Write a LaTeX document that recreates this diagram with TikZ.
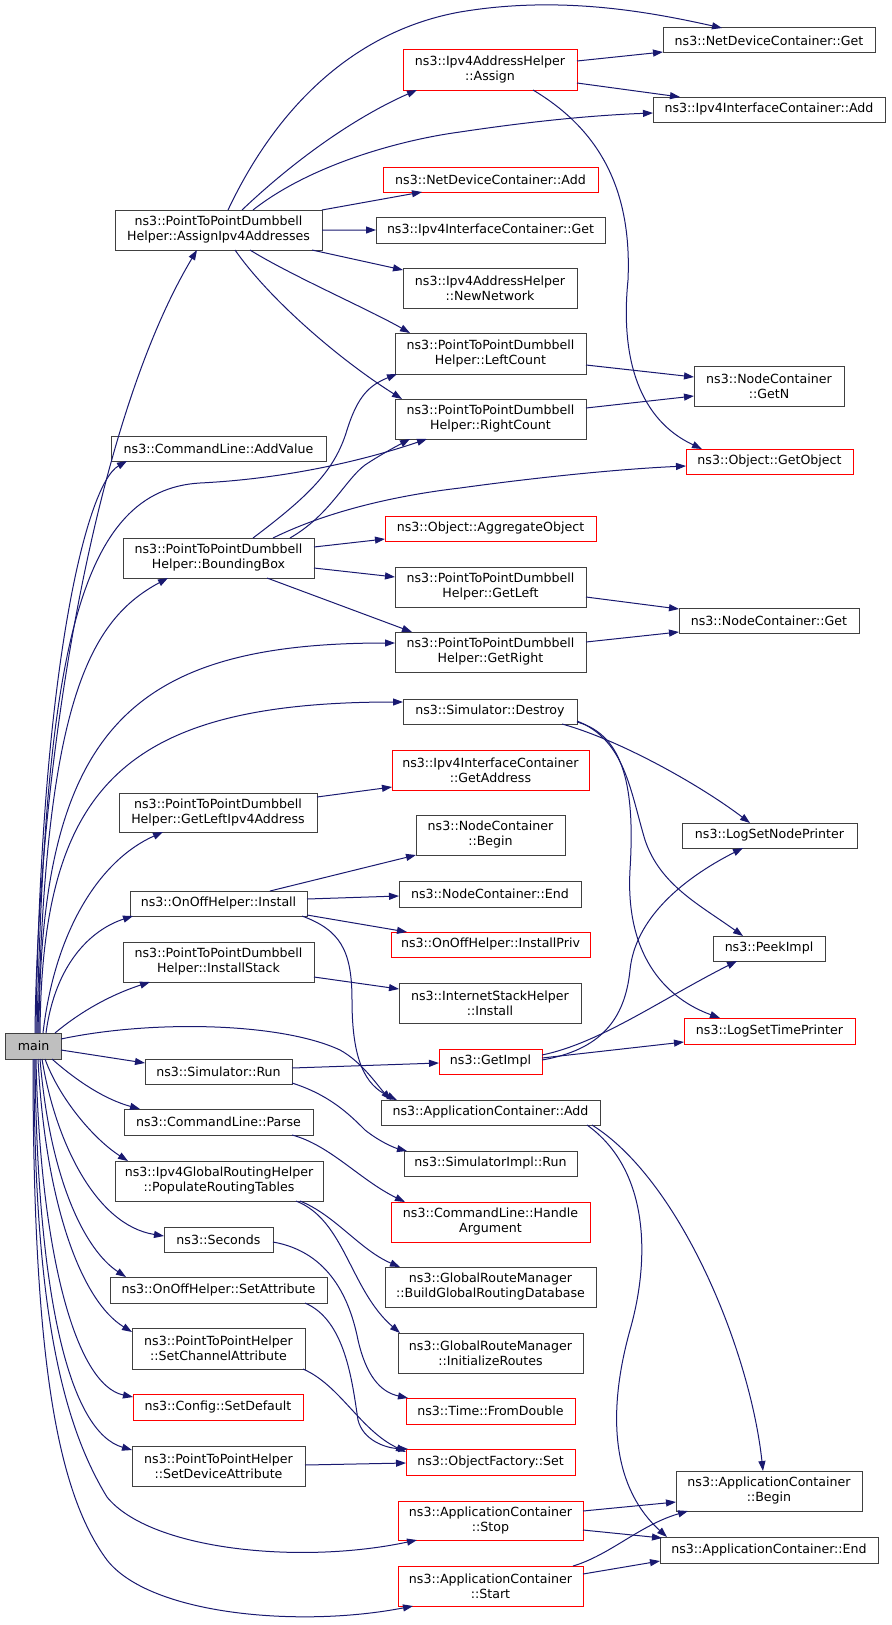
\documentclass[tikz,border=0pt]{standalone}
\usepackage{fontspec}
\setmainfont{DejaVu Sans}
\usetikzlibrary{arrows.meta,calc}
\definecolor{edgec}{HTML}{191970}
\definecolor{boxc}{HTML}{404040}
\definecolor{redc}{HTML}{FF0000}
\definecolor{mainfill}{HTML}{BFBFBF}
\newcommand\bx[7]{\node[#6, minimum width={#4bp-#2bp}, minimum height={#5bp-#3bp}] (#1) at ({(#2+#4)/2},{(#3+#5)/2}) {#7};}
\begin{document}
\begin{tikzpicture}[x=1bp,y=-1bp,
  every node/.style={font=\fontsize{12.65pt}{15.05pt}\selectfont},
  fbox/.style={draw=boxc, line width=1bp, inner sep=0pt, outer sep=0pt, align=center, fill=white},
  rbox/.style={fbox, draw=redc},
  mbox/.style={fbox, fill=mainfill},
  edge/.style={draw=edgec, line width=1bp, -{Triangle[length=10bp,width=7bp]}}]
\useasboundingbox[fill=white] (0,0) rectangle (891,1625);
% column 1
\bx{main}{6}{1033}{61}{1059}{mbox}{main}
\bx{assign4}{115}{210}{322}{250}{fbox}{ns3::PointToPointDumbbell\\Helper::AssignIpv4Addresses}
\bx{addval}{111}{436}{326}{461}{fbox}{ns3::CommandLine::AddValue}
\bx{bbox}{123}{538}{314}{578}{fbox}{ns3::PointToPointDumbbell\\Helper::BoundingBox}
\bx{getleftip}{119}{793}{317}{832}{fbox}{ns3::PointToPointDumbbell\\Helper::GetLeftIpv4Address}
\bx{onoffinst}{130}{891}{307}{916}{fbox}{ns3::OnOffHelper::Install}
\bx{instst}{123}{942}{314}{982}{fbox}{ns3::PointToPointDumbbell\\Helper::InstallStack}
\bx{simrun}{145}{1059}{292}{1084}{fbox}{ns3::Simulator::Run}
\bx{parse}{124}{1109}{313}{1135}{fbox}{ns3::CommandLine::Parse}
\bx{poprt}{115}{1161}{323}{1201}{fbox}{ns3::Ipv4GlobalRoutingHelper\\::PopulateRoutingTables}
\bx{seconds}{164}{1227}{273}{1252}{fbox}{ns3::Seconds}
\bx{setattr}{110}{1277}{327}{1303}{fbox}{ns3::OnOffHelper::SetAttribute}
\bx{setch}{132}{1328}{305}{1369}{fbox}{ns3::PointToPointHelper\\::SetChannelAttribute}
\bx{setdef}{133}{1394}{303}{1420}{rbox}{ns3::Config::SetDefault}
\bx{setdev}{132}{1446}{305}{1486}{fbox}{ns3::PointToPointHelper\\::SetDeviceAttribute}
\bx{stop}{398}{1501}{583}{1540}{rbox}{ns3::ApplicationContainer\\::Stop}
\bx{start}{398}{1566}{583}{1606}{rbox}{ns3::ApplicationContainer\\::Start}
% column 2
\bx{ipassign}{403}{50}{577}{90}{rbox}{ns3::Ipv4AddressHelper\\::Assign}
\bx{ndadd}{383}{167}{598}{192}{rbox}{ns3::NetDeviceContainer::Add}
\bx{ifget}{376}{217}{605}{243}{fbox}{ns3::Ipv4InterfaceContainer::Get}
\bx{newnet}{403}{268}{577}{308}{fbox}{ns3::Ipv4AddressHelper\\::NewNetwork}
\bx{leftc}{395}{333}{586}{374}{fbox}{ns3::PointToPointDumbbell\\Helper::LeftCount}
\bx{rightc}{395}{399}{586}{439}{fbox}{ns3::PointToPointDumbbell\\Helper::RightCount}
\bx{aggr}{385}{516}{596}{541}{rbox}{ns3::Object::AggregateObject}
\bx{getleft}{395}{567}{586}{607}{fbox}{ns3::PointToPointDumbbell\\Helper::GetLeft}
\bx{getright}{395}{632}{586}{672}{fbox}{ns3::PointToPointDumbbell\\Helper::GetRight}
\bx{destroy}{403}{699}{577}{724}{fbox}{ns3::Simulator::Destroy}
\bx{getaddr}{392}{750}{589}{790}{rbox}{ns3::Ipv4InterfaceContainer\\::GetAddress}
\bx{ncbegin}{416}{815}{565}{855}{fbox}{ns3::NodeContainer\\::Begin}
\bx{ncend}{399}{881}{581}{907}{fbox}{ns3::NodeContainer::End}
\bx{instpriv}{391}{932}{590}{957}{rbox}{ns3::OnOffHelper::InstallPriv}
\bx{isinst}{399}{983}{581}{1023}{fbox}{ns3::InternetStackHelper\\::Install}
\bx{getimpl}{439}{1049}{542}{1074}{rbox}{ns3::GetImpl}
\bx{appadd}{381}{1100}{600}{1125}{fbox}{ns3::ApplicationContainer::Add}
\bx{simimplrun}{404}{1151}{577}{1176}{fbox}{ns3::SimulatorImpl::Run}
\bx{handlearg}{391}{1202}{590}{1242}{rbox}{ns3::CommandLine::Handle\\Argument}
\bx{buildgr}{385}{1267}{596}{1307}{fbox}{ns3::GlobalRouteManager\\::BuildGlobalRoutingDatabase}
\bx{initrt}{398}{1333}{583}{1373}{fbox}{ns3::GlobalRouteManager\\::InitializeRoutes}
\bx{fromdbl}{406}{1398}{575}{1424}{rbox}{ns3::Time::FromDouble}
\bx{ofset}{406}{1449}{575}{1475}{rbox}{ns3::ObjectFactory::Set}
% column 3
\bx{ndget}{663}{28}{875}{53}{fbox}{ns3::NetDeviceContainer::Get}
\bx{ifadd}{653}{97}{885}{122}{fbox}{ns3::Ipv4InterfaceContainer::Add}
\bx{getn}{694}{366}{844}{406}{fbox}{ns3::NodeContainer\\::GetN}
\bx{getobj}{686}{449}{853}{474}{rbox}{ns3::Object::GetObject}
\bx{ncget}{679}{608}{859}{633}{fbox}{ns3::NodeContainer::Get}
\bx{lognode}{682}{823}{857}{848}{fbox}{ns3::LogSetNodePrinter}
\bx{peek}{713}{936}{825}{961}{fbox}{ns3::PeekImpl}
\bx{logtime}{684}{1018}{855}{1044}{rbox}{ns3::LogSetTimePrinter}
\bx{appbegin}{676}{1471}{862}{1511}{fbox}{ns3::ApplicationContainer\\::Begin}
\bx{append}{660}{1537}{878}{1563}{fbox}{ns3::ApplicationContainer::End}
% edges from main
\draw[edge] ($(main.north west)+(29,0)$) .. controls (38,760) and (95,420) .. ($(assign4.north west)+(82,40)$);
\draw[edge] ($(main.north west)+(30,0)$) .. controls (40,680) and (85,485) .. ($(addval.north west)+(16,25)$);
\draw[edge] ($(main.north west)+(31,0)$) .. controls (45,650) and (80,490) .. (200,483) .. controls (300,478) and (380,455) .. ($(rightc.north west)+(32,40)$);
\draw[edge] ($(main.north west)+(32,0)$) .. controls (45,700) and (90,620) .. ($(bbox.north west)+(45,40)$);
\draw[edge] ($(main.north west)+(33,0)$) .. controls (40,730) and (130,643) .. ($(getright.north west)+(0,11)$);
\draw[edge] ($(main.north west)+(34,0)$) .. controls (42,790) and (120,702) .. ($(destroy.north west)+(0,3)$);
\draw[edge] ($(main.north west)+(37,0)$) .. controls (55,930) and (100,860) .. ($(getleftip.north west)+(44,39)$);
\draw[edge] ($(main.north west)+(40,0)$) .. controls (55,965) and (90,930) .. ($(onoffinst.north west)+(3,25)$);
\draw[edge] ($(main.north west)+(49,0)$) .. controls (80,1012) and (110,995) .. ($(instst.north west)+(27,40)$);
\draw[edge] ($(main.north west)+(55,6)$) .. controls (150,1020) and (280,1022) .. (340,1050) .. controls (362,1062) and (377,1085) .. ($(appadd.north west)+(10,0)$);
\draw[edge] ($(main.north west)+(55,17)$) -- ($(simrun.north west)+(0,4)$);
\draw[edge] ($(main.north west)+(46,26)$) .. controls (70,1075) and (100,1098) .. ($(parse.north west)+(16,0)$);
\draw[edge] ($(main.north west)+(39,26)$) .. controls (60,1100) and (95,1140) .. ($(poprt.north west)+(13,0)$);
\draw[edge] ($(main.north west)+(36,26)$) .. controls (55,1140) and (95,1225) .. ($(seconds.north west)+(0,9)$);
\draw[edge] ($(main.north west)+(34,26)$) .. controls (50,1180) and (85,1250) .. ($(setattr.north west)+(16,0)$);
\draw[edge] ($(main.north west)+(32,26)$) .. controls (45,1200) and (80,1300) .. ($(setch.north west)+(0,4)$);
\draw[edge] ($(main.north west)+(30,26)$) .. controls (40,1250) and (75,1385) .. ($(setdef.north west)+(0,3)$);
\draw[edge] ($(main.north west)+(29,26)$) .. controls (37,1300) and (70,1432) .. ($(setdev.north west)+(0,4)$);
\draw[edge] ($(main.north west)+(28,26)$) .. controls (34,1300) and (60,1420) .. (107,1497) .. controls (150,1550) and (300,1565) .. ($(stop.north west)+(19,39)$);
\draw[edge] ($(main.north west)+(27,26)$) .. controls (33,1350) and (55,1490) .. (107,1560) .. controls (150,1615) and (300,1628) .. ($(start.north west)+(15,40)$);
% AssignIpv4Addresses
\draw[edge] ($(assign4.north west)+(113,0)$) .. controls (280,100) and (360,30) .. (460,12) .. controls (560,-5) and (650,12) .. ($(ndget.north west)+(59,0)$);
\draw[edge] ($(assign4.north west)+(127,0)$) .. controls (300,155) and (360,115) .. ($(ipassign.north west)+(14,40)$);
\draw[edge] ($(assign4.north west)+(138,0)$) .. controls (310,165) and (400,140) .. (460,132) .. controls (540,120) and (600,115) .. ($(ifadd.north west)+(0,16)$);
\draw[edge] ($(assign4.north west)+(207,0)$) -- ($(ndadd.north west)+(39,25)$);
\draw[edge] ($(assign4.north west)+(207,20)$) -- ($(ifget.north west)+(0,13)$);
\draw[edge] ($(assign4.north west)+(197,40)$) -- ($(newnet.north west)+(0,2)$);
\draw[edge] ($(assign4.north west)+(135,40)$) .. controls (290,275) and (370,310) .. ($(leftc.north west)+(15,0)$);
\draw[edge] ($(assign4.north west)+(120,40)$) .. controls (270,300) and (340,360) .. ($(rightc.north west)+(7,0)$);
% Ipv4AddressHelper::Assign
\draw[edge] ($(ipassign.north west)+(174,11)$) -- ($(ndget.north west)+(0,24)$);
\draw[edge] ($(ipassign.north west)+(174,33)$) -- ($(ifadd.north west)+(27,0)$);
\draw[edge] ($(ipassign.north west)+(130,40)$) .. controls (600,130) and (632,190) .. (628,280) .. controls (620,360) and (640,420) .. ($(getobj.north west)+(16,0)$);
% counts
\draw[edge] ($(leftc.north west)+(191,32)$) -- ($(getn.north west)+(0,11)$);
\draw[edge] ($(rightc.north west)+(191,9)$) -- ($(getn.north west)+(0,30)$);
% BoundingBox
\draw[edge] ($(bbox.north west)+(130,0)$) .. controls (310,495) and (335,470) .. (347,430) .. controls (358,395) and (370,385) .. ($(leftc.north west)+(2,41)$);
\draw[edge] ($(bbox.north west)+(167,0)$) .. controls (330,515) and (345,480) .. (365,465) .. controls (380,455) and (395,447) .. ($(rightc.north west)+(15,40)$);
\draw[edge] ($(bbox.north west)+(150,0)$) .. controls (330,510) and (400,495) .. (460,488) .. controls (540,477) and (620,469) .. ($(getobj.north west)+(0,17)$);
\draw[edge] ($(bbox.north west)+(191,9)$) -- ($(aggr.north west)+(0,23)$);
\draw[edge] ($(bbox.north west)+(191,30)$) -- ($(getleft.north west)+(0,10)$);
\draw[edge] ($(bbox.north west)+(144,40)$) -- ($(getright.north west)+(17,0)$);
\draw[edge] ($(getleft.north west)+(191,30)$) -- ($(ncget.north west)+(0,1)$);
\draw[edge] ($(getright.north west)+(191,10)$) -- ($(ncget.north west)+(0,24)$);
% Destroy
\draw[edge] ($(destroy.north west)+(159,25)$) .. controls (620,740) and (700,785) .. ($(lognode.north west)+(68,0)$);
\draw[edge] ($(destroy.north west)+(174,22)$) .. controls (625,740) and (630,790) .. (645,840) .. controls (660,885) and (700,905) .. ($(peek.north west)+(30,0)$);
\draw[edge] ($(destroy.north west)+(174,23)$) .. controls (625,735) and (635,790) .. (630,870) .. controls (625,960) and (670,1000) .. ($(logtime.north west)+(36,0)$);
\draw[edge] ($(getleftip.north west)+(198,4)$) -- ($(getaddr.north west)+(0,37)$);
% OnOffHelper::Install
\draw[edge] ($(onoffinst.north west)+(140,0)$) -- ($(ncbegin.north west)+(0,40)$);
\draw[edge] ($(onoffinst.north west)+(177,8)$) -- ($(ncend.north west)+(0,15)$);
\draw[edge] ($(onoffinst.north west)+(177,24)$) -- ($(instpriv.north west)+(16,0)$);
\draw[edge] ($(onoffinst.north west)+(172,25)$) .. controls (340,930) and (352,950) .. (352,1000) .. controls (352,1060) and (365,1085) .. ($(appadd.north west)+(16,0)$);
\draw[edge] ($(instst.north west)+(191,35)$) -- ($(isinst.north west)+(0,6)$);
% Simulator::Run
\draw[edge] ($(simrun.north west)+(147,9)$) -- ($(getimpl.north west)+(0,14)$);
\draw[edge] ($(simrun.north west)+(147,24)$) .. controls (330,1095) and (350,1115) .. (365,1130) .. controls (380,1142) and (395,1148) .. ($(simimplrun.north west)+(3,0)$);
% GetImpl
\draw[edge] ($(getimpl.north west)+(103,11)$) .. controls (600,1050) and (625,1020) .. (630,970) .. controls (635,920) and (680,880) .. ($(lognode.north west)+(61,25)$);
\draw[edge] ($(getimpl.north west)+(103,6)$) .. controls (600,1043) and (660,1000) .. ($(peek.north west)+(24,25)$);
\draw[edge] ($(getimpl.north west)+(103,9)$) -- ($(logtime.north west)+(0,24)$);
% ApplicationContainer::Add
\draw[edge] ($(appadd.north west)+(206,25)$) .. controls (650,1170) and (650,1260) .. (630,1330) .. controls (605,1420) and (615,1490) .. ($(append.north west)+(7,0)$);
\draw[edge] ($(appadd.north west)+(211,25)$) .. controls (680,1180) and (750,1350) .. ($(appbegin.north west)+(87,0)$);
% lower ones
\draw[edge] ($(parse.north west)+(168,26)$) .. controls (330,1145) and (360,1180) .. ($(handlearg.north west)+(14,0)$);
\draw[edge] ($(poprt.north west)+(185,40)$) .. controls (335,1215) and (360,1250) .. ($(buildgr.north west)+(15,0)$);
\draw[edge] ($(poprt.north west)+(181,40)$) .. controls (345,1220) and (350,1290) .. ($(initrt.north west)+(2,0)$);
\draw[edge] ($(seconds.north west)+(109,15)$) .. controls (330,1252) and (350,1300) .. (358,1340) .. controls (366,1375) and (380,1392) .. ($(fromdbl.north west)+(2,0)$);
\draw[edge] ($(setattr.north west)+(195,26)$) .. controls (345,1320) and (352,1380) .. (358,1420) .. controls (363,1440) and (385,1448) .. ($(ofset.north west)+(2,0)$);
\draw[edge] ($(setch.north west)+(171,41)$) .. controls (340,1385) and (360,1430) .. ($(ofset.north west)+(0,3)$);
\draw[edge] ($(setdev.north west)+(173,19)$) -- ($(ofset.north west)+(0,14)$);
\draw[edge] ($(stop.north west)+(185,10)$) -- ($(appbegin.north west)+(0,31)$);
\draw[edge] ($(stop.north west)+(185,29)$) -- ($(append.north west)+(2,1)$);
\draw[edge] ($(start.north west)+(175,0)$) .. controls (610,1555) and (640,1525) .. ($(appbegin.north west)+(12,40)$);
\draw[edge] ($(start.north west)+(185,8)$) -- ($(append.north west)+(0,24)$);
\end{tikzpicture}
\end{document}
